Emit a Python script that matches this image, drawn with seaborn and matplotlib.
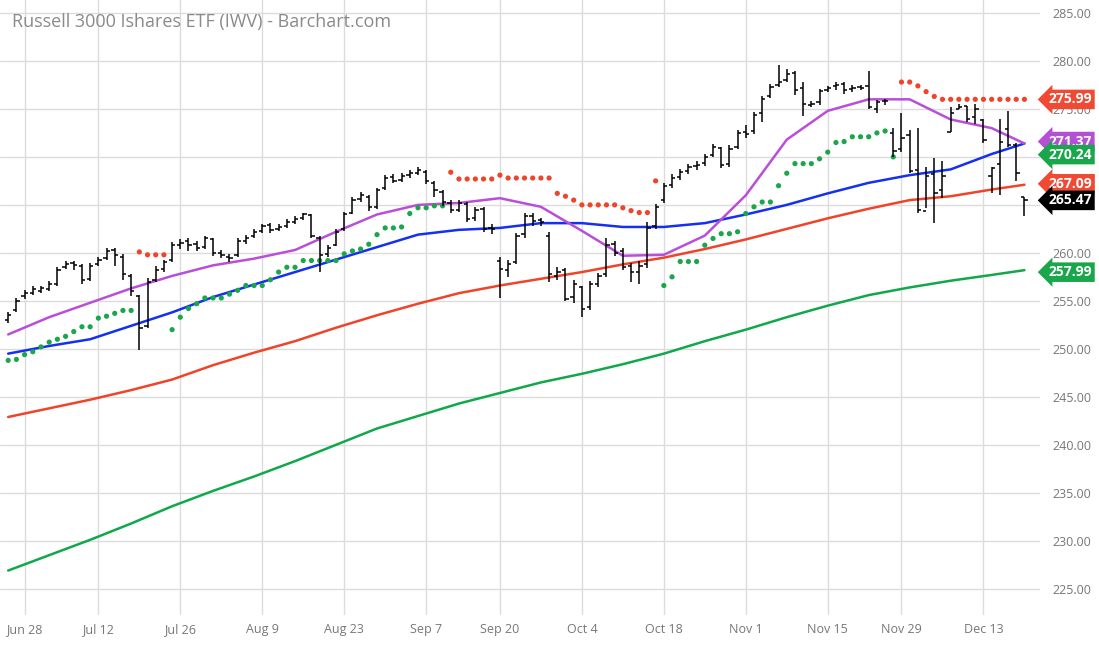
import numpy as np
import pandas as pd
import seaborn as sns
import matplotlib.pyplot as plt

# daily bars, Jun 24 - Dec 20 2021
opens = [253.0,254.0,255.5,255.8,256.0,256.2,256.8,258.5,258.9,258.6,
         257.3,258.8,259.5,260.3,259.6,257.6,255.5,252.4,257.2,258.3,
         259.3,260.8,261.2,260.9,260.6,261.4,260.0,259.6,259.8,261.2,
         261.8,262.3,262.9,262.5,262.8,263.2,263.6,263.9,261.5,259.9,
         260.8,262.5,264.2,265.6,265.8,264.8,266.8,267.9,267.6,268.1,
         268.3,268.4,267.3,266.3,265.2,264.5,265.1,263.6,264.6,262.6,
         259.2,258.2,259.0,262.0,263.8,263.4,261.8,257.6,258.2,255.4,
         256.4,254.4,256.8,257.8,260.9,260.2,258.6,258.0,258.8,262.8,
         265.5,267.1,267.9,268.5,269.1,269.4,270.2,270.9,269.3,271.0,
         272.6,272.7,274.6,276.3,277.5,278.0,278.7,277.2,275.4,275.7,277.0,
         277.4,277.6,277.1,277.3,277.4,275.0,275.8,272.5,270.8,272.3,
         268.6,264.4,268.2,266.5,272.6,275.0,275.3,274.2,273.8,268.0,269.3,272.9,271.2,265.8]
highs = [253.8,255.3,256.1,256.5,256.6,257.1,258.5,259.2,259.2,258.8,
         258.9,259.6,260.5,260.5,259.9,257.8,255.6,257.4,258.6,259.3,
         261.1,261.4,261.5,261.2,261.8,261.6,260.3,259.9,261.5,261.9,
         262.5,263.0,263.1,263.0,263.5,263.8,264.2,264.1,261.8,260.8,
         262.5,264.3,265.8,266.3,266.0,266.8,268.1,268.2,268.3,268.6,
         268.9,268.6,267.5,266.5,265.5,265.5,265.3,264.8,264.8,263.0,
         259.6,259.3,262.1,264.2,264.2,263.6,262.2,258.5,258.4,257.2,
         256.6,257.1,257.9,261.6,261.2,260.5,258.9,259.2,263.2,265.1,
         267.3,268.2,268.7,269.3,269.6,270.3,271.3,271.0,271.2,272.8,
         273.3,274.7,276.3,277.6,279.6,279.2,278.9,277.8,275.8,277.1,277.4,
         277.8,277.8,277.5,277.5,278.9,275.9,276.0,273.0,274.6,272.8,
         273.0,269.0,269.9,269.6,275.2,275.5,275.3,275.5,274.0,269.0,274.0,274.8,271.4,265.8]
lows = [252.7,253.8,255.2,255.6,255.8,256.0,256.6,258.3,258.2,256.8,
        257.1,258.6,259.3,258.6,257.2,255.5,249.9,252.2,257.0,258.0,
        259.1,260.4,260.2,260.2,260.4,259.7,259.5,259.1,259.6,260.9,
        261.6,262.1,262.1,262.3,262.6,263.0,263.4,261.5,258.0,259.6,
        260.7,262.3,264.0,265.3,264.4,264.6,266.6,267.3,267.4,267.8,
        268.1,267.2,265.8,264.9,264.2,264.3,263.2,263.3,262.2,262.0,
        255.3,257.5,258.8,261.6,262.8,262.8,257.0,257.2,255.0,254.8,
        253.3,254.1,256.4,257.5,259.7,258.2,257.0,256.8,258.4,262.5,
        265.2,266.8,267.6,268.2,268.6,269.1,270.0,268.8,269.0,270.8,
        272.0,272.4,273.6,276.1,277.3,277.8,276.5,274.3,275.2,275.4,276.8,
        277.0,276.6,276.8,277.0,275.0,274.6,275.4,270.0,270.5,268.3,
        264.2,264.7,263.1,265.7,272.6,275.0,273.6,273.4,271.5,266.2,266.0,271.0,267.5,263.8]
closes = [253.5,255.0,255.8,256.2,256.3,256.8,258.2,258.8,258.7,257.2,
          258.6,259.3,260.2,259.8,257.8,256.0,252.2,257.0,258.2,259.0,
          260.8,261.0,260.8,260.5,261.5,260.0,259.8,259.5,261.2,261.6,
          262.2,262.8,262.4,262.7,263.2,263.5,264.0,261.8,259.8,260.5,
          262.2,264.0,265.5,266.0,264.8,266.5,267.8,267.5,268.0,268.3,
          268.6,267.5,266.5,265.3,264.5,265.2,263.5,264.5,262.5,262.5,
          258.3,258.8,261.8,263.8,263.3,263.2,257.8,258.0,255.2,256.8,
          254.2,256.8,257.6,260.8,260.0,258.5,258.0,258.6,262.6,264.8,
          267.0,267.8,268.4,269.0,269.2,270.0,271.0,269.2,270.8,272.5,
          272.4,274.4,276.0,277.3,277.8,278.6,277.0,275.5,275.5,276.9,277.2,
          277.5,277.0,277.2,277.2,275.2,275.7,275.8,270.6,272.0,268.5,
          264.5,268.0,266.2,268.0,274.6,275.2,274.0,275.0,271.8,268.8,271.6,271.2,268.3,265.47]

# parabolic SAR, one dot per bar
sar = [248.8,248.9,249.4,249.7,250.2,250.7,251.0,251.3,251.8,252.3,252.3,253.2,253.4,253.7,254.0,254.0,
       260.1,259.8,259.8,259.8,
       252.0,253.3,254.2,254.7,255.3,255.3,255.3,255.7,256.1,256.6,256.6,256.6,257.2,258.0,258.5,258.5,
       259.2,259.2,259.2,259.2,259.2,259.9,260.2,260.4,260.9,261.9,262.6,262.6,262.7,264.1,264.7,264.7,264.9,264.9,
       268.4,267.7,267.7,267.7,267.7,267.7,268.1,267.8,267.8,267.8,267.8,267.8,267.8,266.2,265.9,265.5,
       265.0,265.0,265.0,265.0,265.0,264.7,264.4,264.2,264.2,267.5,
       256.6,257.5,259.1,259.1,259.1,260.8,261.5,262.0,262.0,262.2,264.1,264.8,265.3,265.3,267.0,268.3,
       269.3,269.3,269.3,269.8,270.5,271.5,271.6,272.1,272.1,272.1,272.5,272.7,270.0,
       277.8,277.8,277.4,276.8,276.3,276.0,276.0,276.0,276.0,276.0,276.0,276.0,276.0,276.0,276.0,276.0]

# moving averages read every 5th bar
ma_idx = [0,5,10,15,20,25,30,35,40,45,50,55,60,65,70,75,80,85,90,95,100,105,110,115,120,124]
ma_purple = [251.5,253.3,254.8,256.3,257.6,258.7,259.4,260.3,262.2,264.0,265.0,265.2,265.7,
             264.8,262.3,259.7,259.8,261.8,266.0,271.8,274.8,276.0,276.0,273.9,273.0,271.4]
ma_blue = [249.5,250.3,251.0,252.4,253.8,255.4,256.7,258.0,259.3,260.6,261.9,262.4,262.6,
           263.1,263.1,262.7,262.7,263.1,264.0,265.0,266.2,267.3,268.1,268.7,270.3,271.4]
ma_red = [242.9,243.8,244.7,245.7,246.8,248.3,249.6,250.8,252.2,253.5,254.7,255.8,256.6,
          257.3,258.0,258.8,259.5,260.4,261.4,262.5,263.6,264.6,265.5,265.9,266.6,267.1]
ma_green = [226.9,228.5,230.1,231.8,233.6,235.2,236.7,238.3,240.0,241.7,243.0,244.3,245.4,
            246.5,247.4,248.4,249.5,250.8,252.0,253.3,254.5,255.6,256.4,257.1,257.7,258.2]

tick_dates = ['2021-06-28','2021-07-12','2021-07-26','2021-08-09','2021-08-23','2021-09-07','2021-09-20',
              '2021-10-04','2021-10-18','2021-11-01','2021-11-15','2021-11-29','2021-12-13']
tick_labels = ['Jun 28','Jul 12','Jul 26','Aug 9','Aug 23','Sep 7','Sep 20','Oct 4','Oct 18',
               'Nov 1','Nov 15','Nov 29','Dec 13']

last_labels = ['275.99','271.37','270.24','267.09','265.47','257.99']
last_values = [275.99, 271.6, 270.24, 267.2, 265.47, 257.99]
last_colors = ['#f04a34','#b44fd6','#1aa64a','#f04a34','#000000','#1aa64a']

dates = pd.bdate_range('2021-06-24', '2021-12-20')
dates = dates[~dates.isin(pd.to_datetime(['2021-07-05','2021-09-06','2021-11-25']))]
assert len(dates) == len(closes) == len(sar) == len(highs) == len(lows) == len(opens)
x = np.arange(len(dates))
tick_pos = [dates.get_loc(pd.Timestamp(d)) for d in tick_dates]

sns.set_theme(style='white')
plt.rcParams['font.family'] = ['Open Sans', 'DejaVu Sans']

fig = plt.figure(figsize=(10.99, 6.45), dpi=100)
ax = fig.add_axes([0, 0.047, 1040 / 1099, 0.953])

ax.set_xticks(tick_pos)
ax.set_xticklabels(tick_labels)
ax.set_yticks(np.arange(225, 290, 5))
ax.set_yticklabels([f'{v:.2f}' for v in np.arange(225, 290, 5)])
ax.grid(True, color='#dcdcdc', linewidth=1)
ax.set_axisbelow(True)

ma = pd.DataFrame({'x': ma_idx, 'purple': ma_purple, 'blue': ma_blue, 'red': ma_red, 'green': ma_green})
sns.lineplot(data=ma, x='x', y='green', color='#10a84a', lw=1.8, ax=ax)
sns.lineplot(data=ma, x='x', y='red', color='#f0442a', lw=1.8, ax=ax)
sns.lineplot(data=ma, x='x', y='blue', color='#1430f0', lw=1.8, ax=ax)
sns.lineplot(data=ma, x='x', y='purple', color='#b94fd8', lw=1.8, ax=ax)

sar_df = pd.DataFrame({'x': x, 'sar': sar, 'close': closes})
sar_df['side'] = np.where(sar_df['sar'] > sar_df['close'], 'short', 'long')
sns.scatterplot(data=sar_df, x='x', y='sar', hue='side', palette={'short': '#f0442a', 'long': '#1aa64a'},
                s=14, linewidth=0, legend=False, ax=ax, zorder=3)

ax.vlines(x, lows, highs, color='black', lw=1.1, zorder=4)
ax.hlines(opens, x - 0.4, x, color='black', lw=1.1, zorder=4)
ax.hlines(closes, x, x + 0.4, color='black', lw=1.1, zorder=4)

ax.set_xlim(-1, 125.9)
ax.set_ylim(222.3, 286.35)
ax.set_xlabel('')
ax.set_ylabel('')
ax.yaxis.tick_right()
ax.tick_params(axis='both', length=0, labelsize=9, colors='#777777')
ax.tick_params(axis='y', pad=9)
ax.tick_params(axis='x', pad=6)
for s in ax.spines.values():
    s.set_visible(False)

for lab, v, c in zip(last_labels, last_values, last_colors):
    ax.text(1.008, v, lab, transform=ax.get_yaxis_transform(), color='white', fontsize=10,
            fontweight='bold', va='center', ha='left', clip_on=False, zorder=6,
            bbox=dict(boxstyle='larrow,pad=0.2', fc=c, ec='none'))

fig.text(12 / 1099, 1 - 22 / 645, 'Russell 3000 Ishares ETF (IWV) - Barchart.com', fontsize=13,
         color='#8a8a8a', va='center', ha='left')

fig.savefig('out.png', dpi=100)
